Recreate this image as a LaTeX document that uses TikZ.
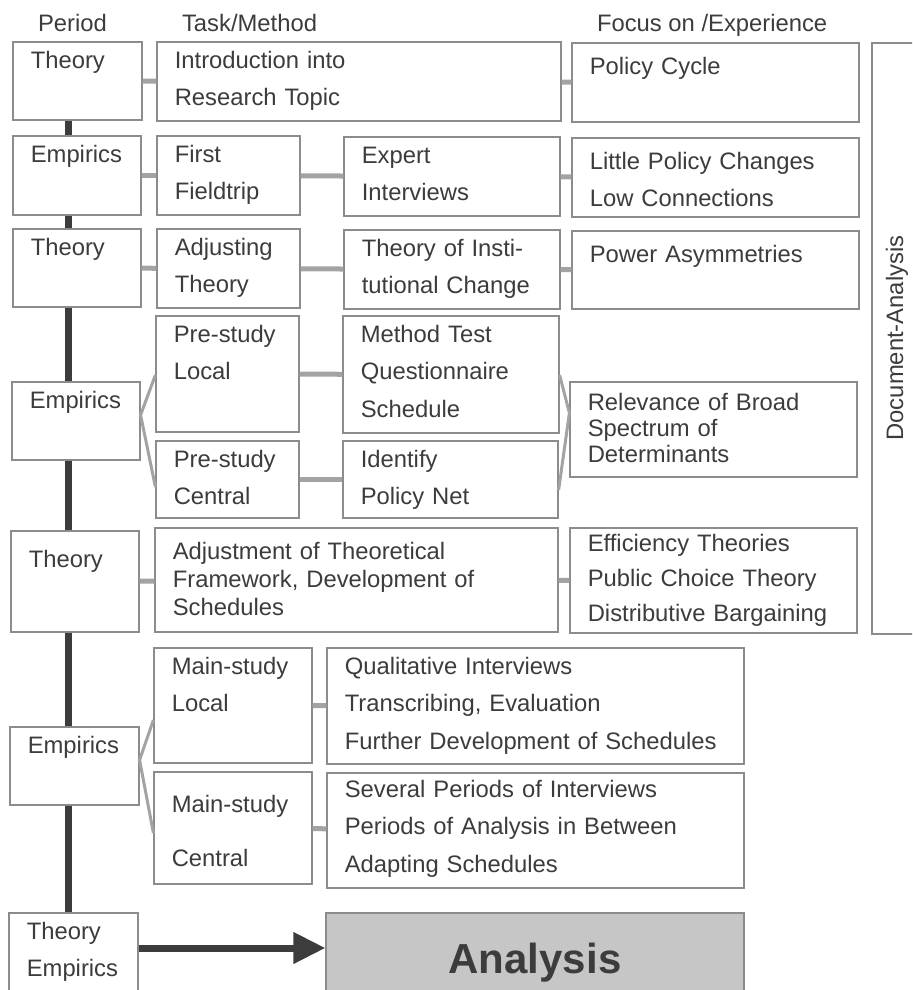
\documentclass[tikz,border=0pt]{standalone}
\usepackage{fontspec}
\setmainfont{Liberation Sans}
\usetikzlibrary{fit, arrows.meta}
\definecolor{ink}{HTML}{3C3C3C}
\definecolor{frame}{HTML}{8C8C8C}
\definecolor{halftone}{HTML}{A3A3A3}
\definecolor{shade}{HTML}{C6C6C6}

\begin{document}
\begin{tikzpicture}[x=0.5pt, y=-0.5pt, text=ink,
  font=\fontsize{11.9}{18.75}\selectfont,
  box/.style={draw=frame, line width=0.6pt, fill=white, inner sep=0pt, fit={#1}},
  txt/.style={anchor=base west, align=left, text width=220pt, inner sep=0pt, xshift=9pt, yshift=#1},
  txt/.default=-13.5pt,
  lead/.style={font=\fontsize{11.9}{#1}\selectfont},
  link/.style={draw=halftone, line width=2.5pt},
  fork/.style={draw=halftone, line width=1.5pt},
  spine/.style={draw=ink, line width=3.5pt}]

\useasboundingbox (0,0) rectangle (912,990);
\clip (0,0) rectangle (912,990);

% headings
\node[anchor=base west] (hperiod) at (31,32) {Period};
\node[anchor=base west] (htask) at (175,32) {Task/Method};
\node[anchor=base west] (hfocus) at (590,32) {Focus on /Experience};

% row 1
\node[box={(13,42) (142,120)}, label={[txt]north west:Theory}] (per1) {};
\node[box={(157,42) (561,121)}, label={[txt]north west:{Introduction into\\Research Topic}}] (intro) {};
\node[box={(572,43) (859,122)}, label={[txt=-16pt]north west:Policy Cycle}] (cycle) {};

% row 2
\node[box={(13,136) (141,215)}, label={[txt]north west:Empirics}] (per2) {};
\node[box={(157,136) (300,215)}, label={[txt]north west:{First\\Fieldtrip}}] (field) {};
\node[box={(344,137) (560,216)}, label={[txt]north west:{Expert\\Interviews}}] (expert) {};
\node[box={(572,138) (859,217)}, label={[txt=-16pt]north west:{Little Policy Changes\\Low Connections}}] (little) {};

% row 3
\node[box={(13,229) (141,307)}, label={[txt]north west:Theory}] (per3) {};
\node[box={(157,229) (300,308)}, label={[txt]north west:{Adjusting\\Theory}}] (adjust) {};
\node[box={(344,230) (560,309)}, label={[txt]north west:{Theory of Insti-\\tutional Change}}] (insti) {};
\node[box={(572,231) (859,309)}, label={[txt=-16pt]north west:Power Asymmetries}] (power) {};

% row 4
\node[box={(12,382) (140,460)}, label={[txt]north west:Empirics}] (per4) {};
\node[box={(156,316) (299,432)}, label={[txt]north west:{Pre-study\\Local}}] (prelocal) {};
\node[box={(343,316) (559,433)}, label={[txt]north west:{Method Test\\Questionnaire\\Schedule}}] (method) {};
\node[box={(156,441) (299,518)}, label={[txt]north west:{Pre-study\\Central}}] (precentral) {};
\node[box={(343,441) (558,518)}, label={[txt]north west:{Identify\\Policy Net}}] (identify) {};
\node[box={(570,382) (857,477)}, label={[txt=-14.5pt, lead=13pt]north west:{Relevance of Broad\\Spectrum of\\Determinants}}] (relevance) {};

% row 5
\node[box={(11,531) (139,632)}, label={[txt=-18.5pt]north west:Theory}] (per5) {};
\node[box={(155,528) (558,632)}, label={[txt=-16pt, lead=14pt]north west:{Adjustment of Theoretical\\Framework, Development of\\Schedules}}] (framework) {};
\node[box={(570,528) (857,633)}, label={[txt=-12pt, lead=17.5pt]north west:{Efficiency Theories\\Public Choice Theory\\Distributive Bargaining}}] (efficiency) {};

% document analysis
\node[box={(872,43) (930,634)}] (docu) {};
\node[rotate=90] (docutxt) at (897,338) {Document-Analysis};

% row 6
\node[box={(10,727) (139,805)}, label={[txt]north west:Empirics}] (per6) {};
\node[box={(154,648) (312,763)}, label={[txt]north west:{Main-study\\Local}}] (mainlocal) {};
\node[box={(327,648) (744,764)}, label={[txt]north west:{Qualitative Interviews\\Transcribing, Evaluation\\Further Development of Schedules}}] (qual) {};
\node[box={(154,772) (312,884)}, label={[txt=-20.5pt]north west:{Main-study\\[8.25pt]Central}}] (maincentral) {};
\node[box={(327,773) (744,888)}, label={[txt=-12.5pt]north west:{Several Periods of Interviews\\Periods of Analysis in Between\\Adapting Schedules}}] (several) {};

% row 7
\node[box={(9,913) (138,1000)}, label={[txt]north west:{Theory\\Empirics}}] (per7) {};
\node[box={(326,913) (744,1000)}, fill=shade] (analysis) {};
\node[anchor=base, font=\fontsize{21}{25}\selectfont\bfseries] (analysistxt) at (535,973) {Analysis};

% period spine
\coordinate (spinex) at (68,0);
\foreach \a/\b in {per1/per2, per2/per3, per3/per4, per4/per5, per5/per6, per6/per7}
  \draw[spine] (\a.south -| spinex) -- (\b.north -| spinex);

% links
\draw[link] (per1) -- (intro);
\draw[link] (intro) -- (cycle);
\draw[link] (per2) -- (field);
\draw[link] (field) -- (expert);
\draw[link] (expert) -- (little);
\draw[link] (per3) -- (adjust);
\draw[link] (adjust) -- (insti);
\draw[link] (insti) -- (power);
\draw[link] (prelocal) -- (method);
\draw[link] (precentral) -- (identify);
\draw[link] (per5) -- (framework);
\draw[link] (framework) -- (efficiency);
\draw[link] (mainlocal) -- (qual);
\draw[link] (maincentral) -- (several);

% forks
\draw[fork] (prelocal.west |- 0,375) -- (per4.east |- 0,415) -- (precentral.west |- 0,487);
\draw[fork] (method.east |- 0,375) -- (relevance.west |- 0,413) -- (identify.east |- 0,490);
\draw[fork] (mainlocal.west |- 0,720) -- (per6.east |- 0,760) -- (maincentral.west |- 0,833);

% into analysis
\coordinate (arrowy) at (0,948);
\draw[spine, -{Triangle[length=16pt, width=15pt]}] (per7.east |- arrowy) -- (analysis.west |- arrowy);

\end{tikzpicture}
\end{document}
